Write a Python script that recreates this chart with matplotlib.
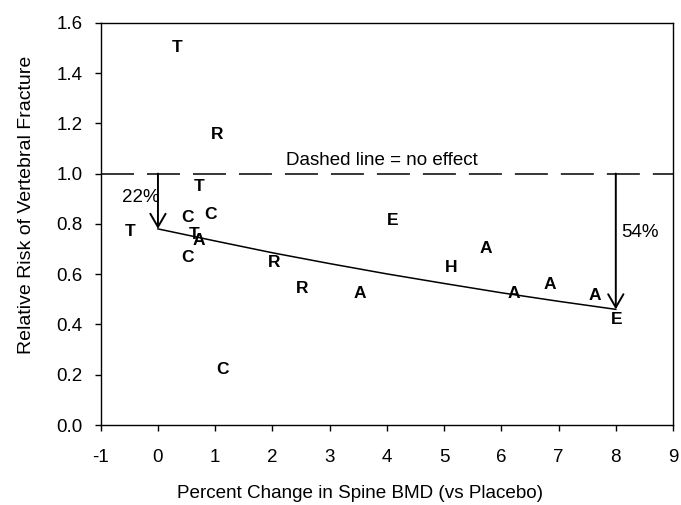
import numpy as np
import matplotlib.pyplot as plt

plt.rcParams['font.family'] = ['Liberation Sans', 'DejaVu Sans']
plt.rcParams['axes.unicode_minus'] = False

# Trial labels and their (BMD change, relative risk) positions
labels = ['T', 'R', 'T', 'C', 'C', 'T', 'T', 'A', 'C', 'R', 'R', 'A', 'C',
          'E', 'H', 'A', 'A', 'A', 'A', 'E']
bmd = [0.33, 1.03, 0.72, 0.52, 0.91, -0.49, 0.64, 0.72, 0.52, 2.03, 2.52, 3.53, 1.12,
       4.1, 5.12, 5.73, 6.22, 6.84, 7.64, 8.02]
risk = [1.50, 1.157, 0.95, 0.827, 0.839, 0.768, 0.756, 0.732, 0.668, 0.648, 0.541, 0.525, 0.219,
        0.815, 0.628, 0.704, 0.525, 0.557, 0.517, 0.42]

# Fitted curve
fit_x = [0, 1, 2, 3, 4, 5, 6, 7, 8]
fit_y = [0.78, 0.732, 0.685, 0.642, 0.601, 0.563, 0.526, 0.492, 0.46]

fig = plt.figure(figsize=(6.81, 5.05), dpi=100)
ax = fig.add_axes([0.1479, 0.1584, 0.8404, 0.7966])

ax.plot(fit_x, fit_y, color='black', lw=1.1)
ax.axhline(1.0, color='black', lw=1.1, dashes=(21.6, 8.5))

for lab, x, y in zip(labels, bmd, risk):
    ax.text(x, y, lab, ha='center', va='center', fontsize=12.5, fontweight='bold')

# reduction arrows
for x0, y1 in [(fit_x[0], fit_y[0]), (fit_x[-1], fit_y[-1])]:
    ax.annotate('', xy=(x0, y1), xytext=(x0, 1.0),
                arrowprops=dict(arrowstyle='->,head_length=0.95,head_width=0.55',
                                color='black', lw=1.4, shrinkA=0, shrinkB=0))

ax.text(-0.30, 0.903, '22%', ha='center', va='center', fontsize=13.5)
ax.text(8.43, 0.764, '54%', ha='center', va='center', fontsize=13.5)
ax.text(3.92, 1.054, 'Dashed line = no effect', ha='center', va='center', fontsize=13.5)

ax.set_xlim(-1, 9)
ax.set_ylim(0, 1.6)
ax.set_xticks(range(-1, 10))
ax.set_yticks(np.arange(0, 1.61, 0.2))
ax.set_yticklabels([f'{v:.1f}' for v in np.arange(0, 1.61, 0.2)])
ax.tick_params(direction='out', length=4, width=1, labelsize=13.5)
ax.tick_params(axis='x', pad=13)
ax.tick_params(axis='y', pad=9)
for s in ax.spines.values():
    s.set_linewidth(1)

ax.set_xlabel('Percent Change in Spine BMD (vs Placebo)', fontsize=13.6)
ax.set_ylabel('Relative Risk of Vertebral Fracture', fontsize=14)
ax.xaxis.set_label_coords(0.453, -0.150)
ax.yaxis.set_label_coords(-0.115, 0.547)

fig.savefig('out.png')
